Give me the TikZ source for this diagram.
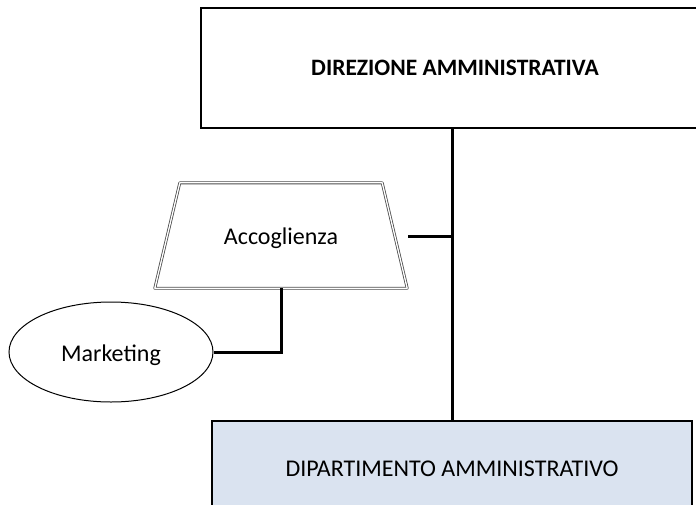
\documentclass[tikz,border=0pt]{standalone}
\usepackage{fontspec}
\setmainfont{Carlito}
\usepackage{tikz}
\usetikzlibrary{shapes.geometric}

\begin{document}
\begin{tikzpicture}[x=1pt,y=-1pt,
		txt/.style={font=\fontsize{24}{28}\selectfont},
		low/.style={text height=24pt,text depth=6pt},
		box/.style={draw,rectangle,line width=2.8pt,txt},
		link/.style={line width=3pt}]
				\useasboundingbox (0,0) rectangle (696,504);
				\clip (0,0) rectangle (696,504);
				\node[box,font=\bfseries\fontsize{23.5}{28}\selectfont,minimum width=508pt,minimum height=120pt] (dir) at (455,68) {DIREZIONE AMMINISTRATIVA};
				\node[box,fill={rgb,255:red,218;green,227;blue,240},minimum width=480pt,minimum height=96pt] (dip) at (452,469) {DIPARTIMENTO AMMINISTRATIVO};
				\node[minimum width=252pt,minimum height=105pt,inner sep=0pt,txt,low] (acc) at (281,235.5) {Accoglienza};
				\draw[draw=gray!60!black,double,double distance=1.3pt,line width=0.8pt,line join=round] (acc.south west) -- (acc.south east) -- ([xshift=-25pt]acc.north east) -- ([xshift=25pt]acc.north west) -- cycle;
				\node[ellipse,draw,line width=1pt,minimum width=204pt,minimum height=100pt,txt,low] (mkt) at (111,352) {Marketing};
				\coordinate (k) at (408,236);
				\draw[link] (dir.south -| dip.north) -- (dip.north);
				\draw[link] (k) -- (k -| dip.north);
				\draw[link] (acc.south) |- (mkt.east);
			\end{tikzpicture}
\end{document}
